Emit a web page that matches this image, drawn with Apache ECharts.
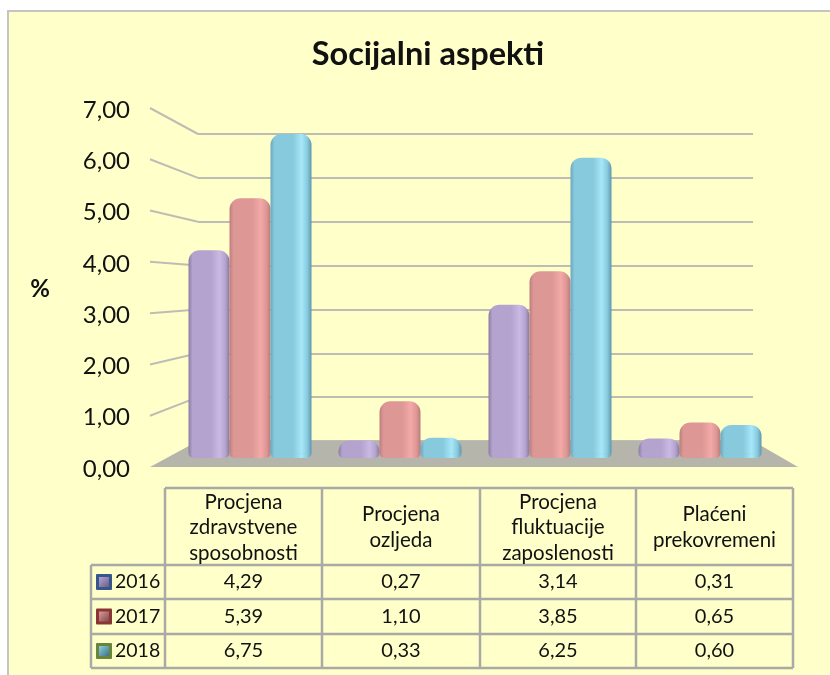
<!DOCTYPE html>
<html>
<head>
<meta charset="utf-8">
<title>Socijalni aspekti</title>
<script src="https://cdn.jsdelivr.net/npm/echarts@6/dist/echarts.min.js"></script>
<style>
  html, body { margin: 0; padding: 0; background: #fff; }
  #chart { width: 830px; height: 675px; }
</style>
</head>
<body>
<div id="chart"></div>
<script>
const categories = ['Procjena\nzdravstvene\nsposobnosti', 'Procjena\nozljeda', 'Procjena\nfluktuacije\nzaposlenosti', 'Plaćeni\nprekovremeni']
const years = ['2016', '2017', '2018']
const values2016 = [4.29, 0.27, 3.14, 0.31]
const values2017 = [5.39, 1.10, 3.85, 0.65]
const values2018 = [6.75, 0.33, 6.25, 0.60]
const ticks = [0, 1, 2, 3, 4, 5, 6, 7]

const FONT = 'Lato, "Open Sans", sans-serif'
const INK = '#111'
const LINE = '#a9a9a6'
const GRID = '#bdbdb4'
const rows = [values2016, values2017, values2018]
const comma = (v, d) => v.toFixed(d).replace('.', ',')

// 3D look: bars sit a little lower than the value zero, so each gets a small foot
const BAR_FOOT = 0.1
const footValues = [BAR_FOOT, BAR_FOOT, BAR_FOOT, BAR_FOOT]

const barColors = [
  ['#8a7da3', '#b4a3cf', '#c9b9e4', '#87799f'],
  ['#bd7f7e', '#dd9795', '#f3a9a7', '#b87c7c'],
  ['#6aa8bf', '#88cadd', '#a6e8fa', '#5e97ae']
]
const keyColors = [
  ['#35578c', '#b5a4d2', '#6d5d86'],
  ['#8a3434', '#e09896', '#7d4a4a'],
  ['#68853a', '#8bcfe3', '#3f7186']
]

function barFill(c) {
  return {
    type: 'linear', x: 0, y: 0, x2: 1, y2: 0,
    colorStops: [
      { offset: 0, color: c[0] },
      { offset: 0.1, color: c[1] },
      { offset: 0.55, color: c[1] },
      { offset: 0.76, color: c[2] },
      { offset: 0.9, color: c[1] },
      { offset: 1, color: c[3] }
    ]
  }
}

// layout of the fake perspective
const wall = { left: 198, right: 753, top: 134, bottom: 441 }
const front = { left: 150, right: 798, top: 108, bottom: 467 }
const wallY = v => wall.bottom - v * (wall.bottom - wall.top) / 7
const frontY = v => front.bottom - v * (front.bottom - front.top) / 7

const colX = [165, 322, 480, 636, 793]
const rowY = [488, 565, 599, 634, 668]
const keyLeft = 91

const graphics = [
  // panel
  { type: 'rect', z: -10, shape: { x: 8, y: 11, width: 830, height: 680 },
    style: { fill: '#ffffc9', stroke: '#c4c4c0', lineWidth: 2 } },
  // floor
  { type: 'polygon', z: 1, shape: { points: [[wall.left, wall.bottom], [wall.right, wall.bottom], [front.right, front.bottom], [front.left, front.bottom]] },
    style: { fill: '#b5b5ab' } }
]

ticks.forEach(v => {
  if (v === 0) return
  graphics.push({ type: 'line', z: 1, shape: { x1: front.left, y1: frontY(v), x2: wall.left, y2: wallY(v) },
    style: { stroke: GRID, lineWidth: 2 } })
})

// table lines
const hLine = (x1, x2, y) => ({ type: 'line', z: 1, shape: { x1, y1: y, x2, y2: y }, style: { stroke: LINE, lineWidth: 2.5 } })
const vLine = (x, y1, y2) => ({ type: 'line', z: 1, shape: { x1: x, y1, x2: x, y2 }, style: { stroke: LINE, lineWidth: 2.5 } })
graphics.push(hLine(colX[0], colX[4], rowY[0]))
rowY.slice(1).forEach(y => graphics.push(hLine(keyLeft, colX[4], y)))
colX.forEach(x => graphics.push(vLine(x, rowY[0], rowY[4])))
graphics.push(vLine(keyLeft, rowY[1], rowY[4]))

const cellText = (x, y, text, size, align) => ({
  type: 'text', z: 2, x, y,
  style: { text, fill: INK, font: size + 'px ' + FONT, align: align || 'center', verticalAlign: 'middle', lineHeight: 25.5 }
})

categories.forEach((name, c) => {
  graphics.push(cellText((colX[c] + colX[c + 1]) / 2, (rowY[0] + rowY[1]) / 2 + 1, name, 20.5))
})

rows.forEach((row, r) => {
  const midY = (rowY[r + 1] + rowY[r + 2]) / 2
  row.forEach((v, c) => {
    graphics.push(cellText((colX[c] + colX[c + 1]) / 2, midY, comma(v, 2), 20))
  })
  graphics.push(cellText(115, midY, years[r], 19.5, 'left'))
  // bevelled legend key
  graphics.push({ type: 'rect', z: 2, shape: { x: 96, y: midY - 8, width: 16, height: 16, r: 1 },
    style: { fill: keyColors[r][0] } })
  graphics.push({ type: 'rect', z: 2, shape: { x: 99, y: midY - 5, width: 10, height: 10 },
    style: { fill: { type: 'linear', x: 0, y: 0, x2: 1, y2: 1, colorStops: [
      { offset: 0, color: keyColors[r][1] }, { offset: 1, color: keyColors[r][2] }
    ] } } })
})

const barSeries = []
rows.forEach((row, r) => {
  const stack = 'bar' + years[r]
  barSeries.push({
    name: years[r] + ' foot', type: 'bar', xAxisIndex: 1, yAxisIndex: 1, stack, z: 3,
    barWidth: 41, barGap: '0%', data: footValues, silent: true,
    itemStyle: { color: barFill(barColors[r]), borderRadius: [0, 0, 8, 8] }
  })
  barSeries.push({
    name: years[r], type: 'bar', xAxisIndex: 1, yAxisIndex: 1, stack, z: 3,
    barWidth: 41, barGap: '0%', data: row,
    itemStyle: { color: barFill(barColors[r]), borderRadius: [11, 11, 0, 0] }
  })
})

const chart = echarts.init(document.getElementById('chart'))
chart.setOption({
  animation: false,
  backgroundColor: '#fff',
  title: {
    text: 'Socijalni aspekti',
    left: 423, top: 33, textAlign: 'center',
    textStyle: { fontFamily: FONT, fontSize: 32.5, fontWeight: 700, color: INK }
  },
  graphic: { elements: graphics },
  grid: [
    // back wall with its gridlines
    { left: wall.left, width: wall.right - wall.left, top: wall.top, height: wall.bottom - wall.top },
    // bars
    { left: 175, width: 600, top: 458 - 47.3 * 7, height: 47.3 * 7 },
    // front scale, only for the labels (they sit 2px under the line ends)
    { left: front.left, width: 1, top: front.top + 2, height: front.bottom - front.top }
  ],
  xAxis: [
    { gridIndex: 0, type: 'value', show: false },
    { gridIndex: 1, type: 'category', show: false, data: categories },
    { gridIndex: 2, type: 'value', show: false }
  ],
  yAxis: [
    {
      gridIndex: 0, type: 'value', min: 0, max: 7, interval: 1,
      axisLine: { show: false }, axisTick: { show: false }, axisLabel: { show: false },
      splitLine: { lineStyle: { color: GRID, width: 2 } }
    },
    { gridIndex: 1, type: 'value', min: 0, max: 7, show: false },
    {
      gridIndex: 2, type: 'value', min: 0, max: 7, interval: 1,
      name: '%', nameLocation: 'middle', nameGap: 100, nameRotate: 0,
      nameTextStyle: { fontFamily: FONT, fontSize: 24, fontWeight: 700, color: INK },
      axisLine: { show: false }, axisTick: { show: false }, splitLine: { show: false },
      axisLabel: { margin: 20, fontFamily: FONT, fontSize: 24, color: INK, formatter: v => comma(v, 2) }
    }
  ],
  series: barSeries
})
</script>
</body>
</html>
